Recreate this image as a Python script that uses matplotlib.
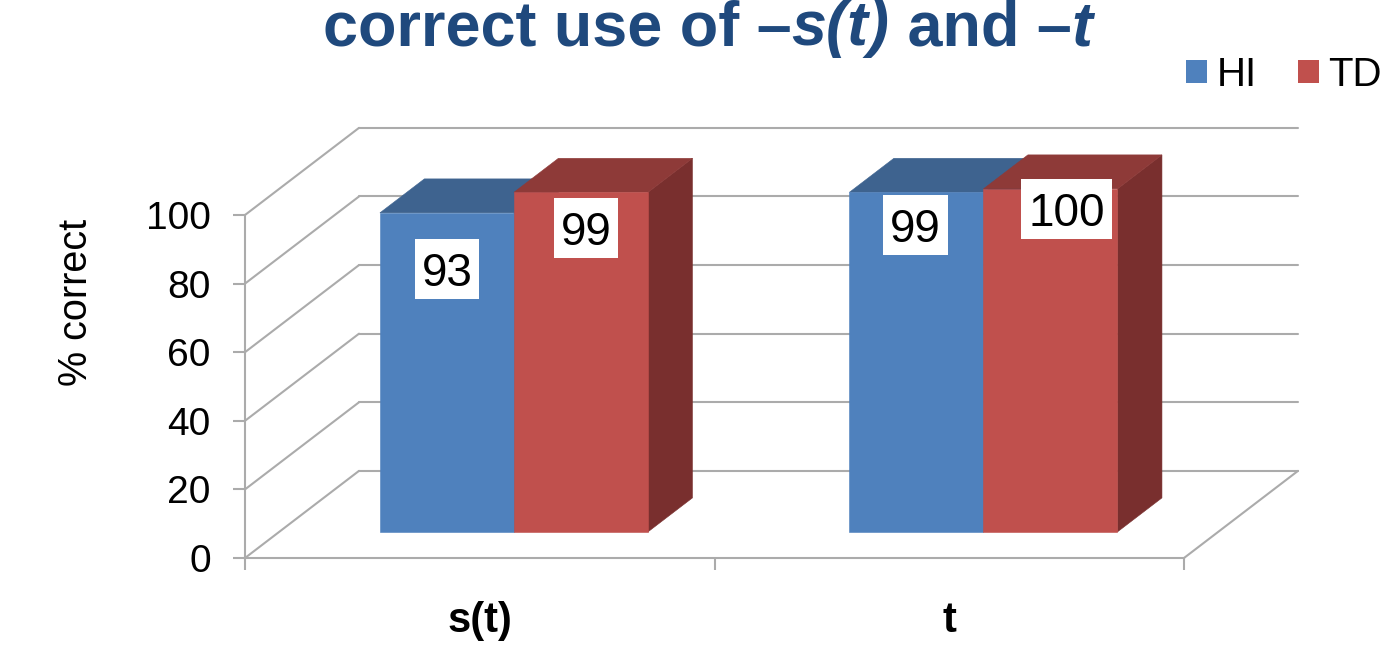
import matplotlib
matplotlib.use('Agg')
import matplotlib.pyplot as plt
from matplotlib.patches import Patch
from matplotlib.path import Path

plt.rcParams['font.family'] = ['Liberation Sans', 'DejaVu Sans']

# Chart values
categories = ['s(t)', 't']
series_names = ['HI', 'TD']
hi_values = [93, 99]
td_values = [99, 100]
y_ticks = [0, 20, 40, 60, 80, 100]

# Colours
GRID = '#ABABAB'
FRONT = {'HI': '#4F81BD', 'TD': '#C0504D'}
TOP = {'HI': '#3E638F', 'TD': '#8E3A38'}
SIDE = {'HI': '#2F4B6E', 'TD': '#792F2E'}
TITLE_COLOR = '#1F497D'

# Oblique depth of the chart box, in axis units
DEPTH_X = 0.2428
DEPTH_Y = 25.4
# Where the bars sit inside the depth (0 = front, 1 = back wall)
BAR_NEAR = 0.30
BAR_FAR = 0.69
BAR_WIDTH = 0.2855

# Pixel nudges of the value labels from the bar's front face
label_nudge = [(0, -61), (5, -41), (-1, -38), (16, -25)]

W, H = 1382, 655
fig = plt.figure(figsize=(W / 100, H / 100), dpi=100)
ax = fig.add_axes([245 / W, (H - 558) / H, 939 / W, 343 / H])
ax.set_xlim(0, 2)
ax.set_ylim(0, 100)
ax.patch.set_visible(False)


def project(x, v, d):
    return x + d * DEPTH_X, v + d * DEPTH_Y


def line3d(p0, p1):
    a = project(*p0)
    b = project(*p1)
    ax.plot([a[0], b[0]], [a[1], b[1]], color=GRID, lw=1.5, clip_on=False,
            solid_capstyle='round', zorder=1)


# Back wall, side wall and floor lines
for v in y_ticks:
    line3d((0, v, 0), (0, v, 1))
    line3d((0, v, 1), (2, v, 1))
line3d((2, 0, 0), (2, 0, 1))


def poly(points, color, z):
    xy = [project(*p) for p in points]
    ax.fill([p[0] for p in xy], [p[1] for p in xy], facecolor=color,
            edgecolor=color, lw=0.4, clip_on=False, zorder=z)


def bar3d(x0, value, name, z):
    x1 = x0 + BAR_WIDTH
    n, f = BAR_NEAR, BAR_FAR
    poly([(x1, 0, n), (x1, 0, f), (x1, value, f), (x1, value, n)], SIDE[name], z)
    poly([(x0, value, n), (x1, value, n), (x1, value, f), (x0, value, f)], TOP[name], z)
    poly([(x0, 0, n), (x1, 0, n), (x1, value, n), (x0, value, n)], FRONT[name], z)


def label_box(x0, y0, width, height, mutation_size):
    # white plate around a value label, with more room above the digits
    pad_x = 0.15 * mutation_size
    x0, x1 = x0 - pad_x, x0 + width + pad_x
    y0, y1 = y0 - 0.06 * mutation_size, y0 + height + 0.28 * mutation_size
    return Path([(x0, y0), (x1, y0), (x1, y1), (x0, y1), (x0, y0)], closed=True)


nudges = iter(label_nudge)
for i, cat in enumerate(categories):
    center = i + 0.5
    bar3d(center - BAR_WIDTH, hi_values[i], 'HI', 3)
    bar3d(center, td_values[i], 'TD', 4)
    for x0, value in ((center - BAR_WIDTH, hi_values[i]), (center, td_values[i])):
        pos = project(x0 + BAR_WIDTH / 2, value, BAR_NEAR)
        ax.annotate(str(value), xy=pos, xytext=next(nudges), textcoords='offset pixels',
                    ha='center', va='center', fontsize=33, color='black', zorder=6,
                    annotation_clip=False,
                    bbox=dict(boxstyle=label_box, fc='white', ec='none'))

# Axes, ticks and labels
for s in ('top', 'right'):
    ax.spines[s].set_visible(False)
for s in ('left', 'bottom'):
    ax.spines[s].set_color(GRID)
    ax.spines[s].set_linewidth(1.5)
    ax.spines[s].set_zorder(2)

ax.set_yticks(y_ticks)
ax.tick_params(axis='y', length=8.6, width=1.5, color=GRID, labelsize=28, pad=16)
ax.set_xticks([0, 1, 2])
ax.set_xticklabels([])
ax.tick_params(axis='x', which='major', length=8.6, width=1.5, color=GRID)
ax.set_xticks([0.5, 1.5], minor=True)
ax.set_xticklabels(categories, minor=True, fontsize=30, fontweight='bold')
ax.tick_params(axis='x', which='minor', length=0, pad=31)
ax.set_ylabel('% correct', fontsize=28.5, labelpad=37, y=0.746)

# Legend above the right end of the chart
handles = [Patch(facecolor=FRONT[n], label=n) for n in series_names]
fig.legend(handles=handles, ncols=2, loc='upper right', bbox_to_anchor=(1.0, 1 - 56 / H),
           fontsize=29, frameon=False, handlelength=0.52, handleheight=0.52,
           handletextpad=0.24, columnspacing=1.03, borderaxespad=0, borderpad=0)

# Title with italic pieces, laid out one after the other
title_parts = [('correct use of \u2013', 'normal'), ('s(t)', 'italic'),
               (' and \u2013', 'normal'), ('t', 'italic')]
renderer = fig.canvas.get_renderer()
title_x = 323
for text, style in title_parts:
    t = fig.text(title_x / W, 1 - 45 / H, text, fontsize=45.3, fontweight='bold', fontstyle=style,
                 color=TITLE_COLOR, ha='left', va='baseline')
    title_x += t.get_window_extent(renderer).width

fig.savefig('out.png', dpi=100)
